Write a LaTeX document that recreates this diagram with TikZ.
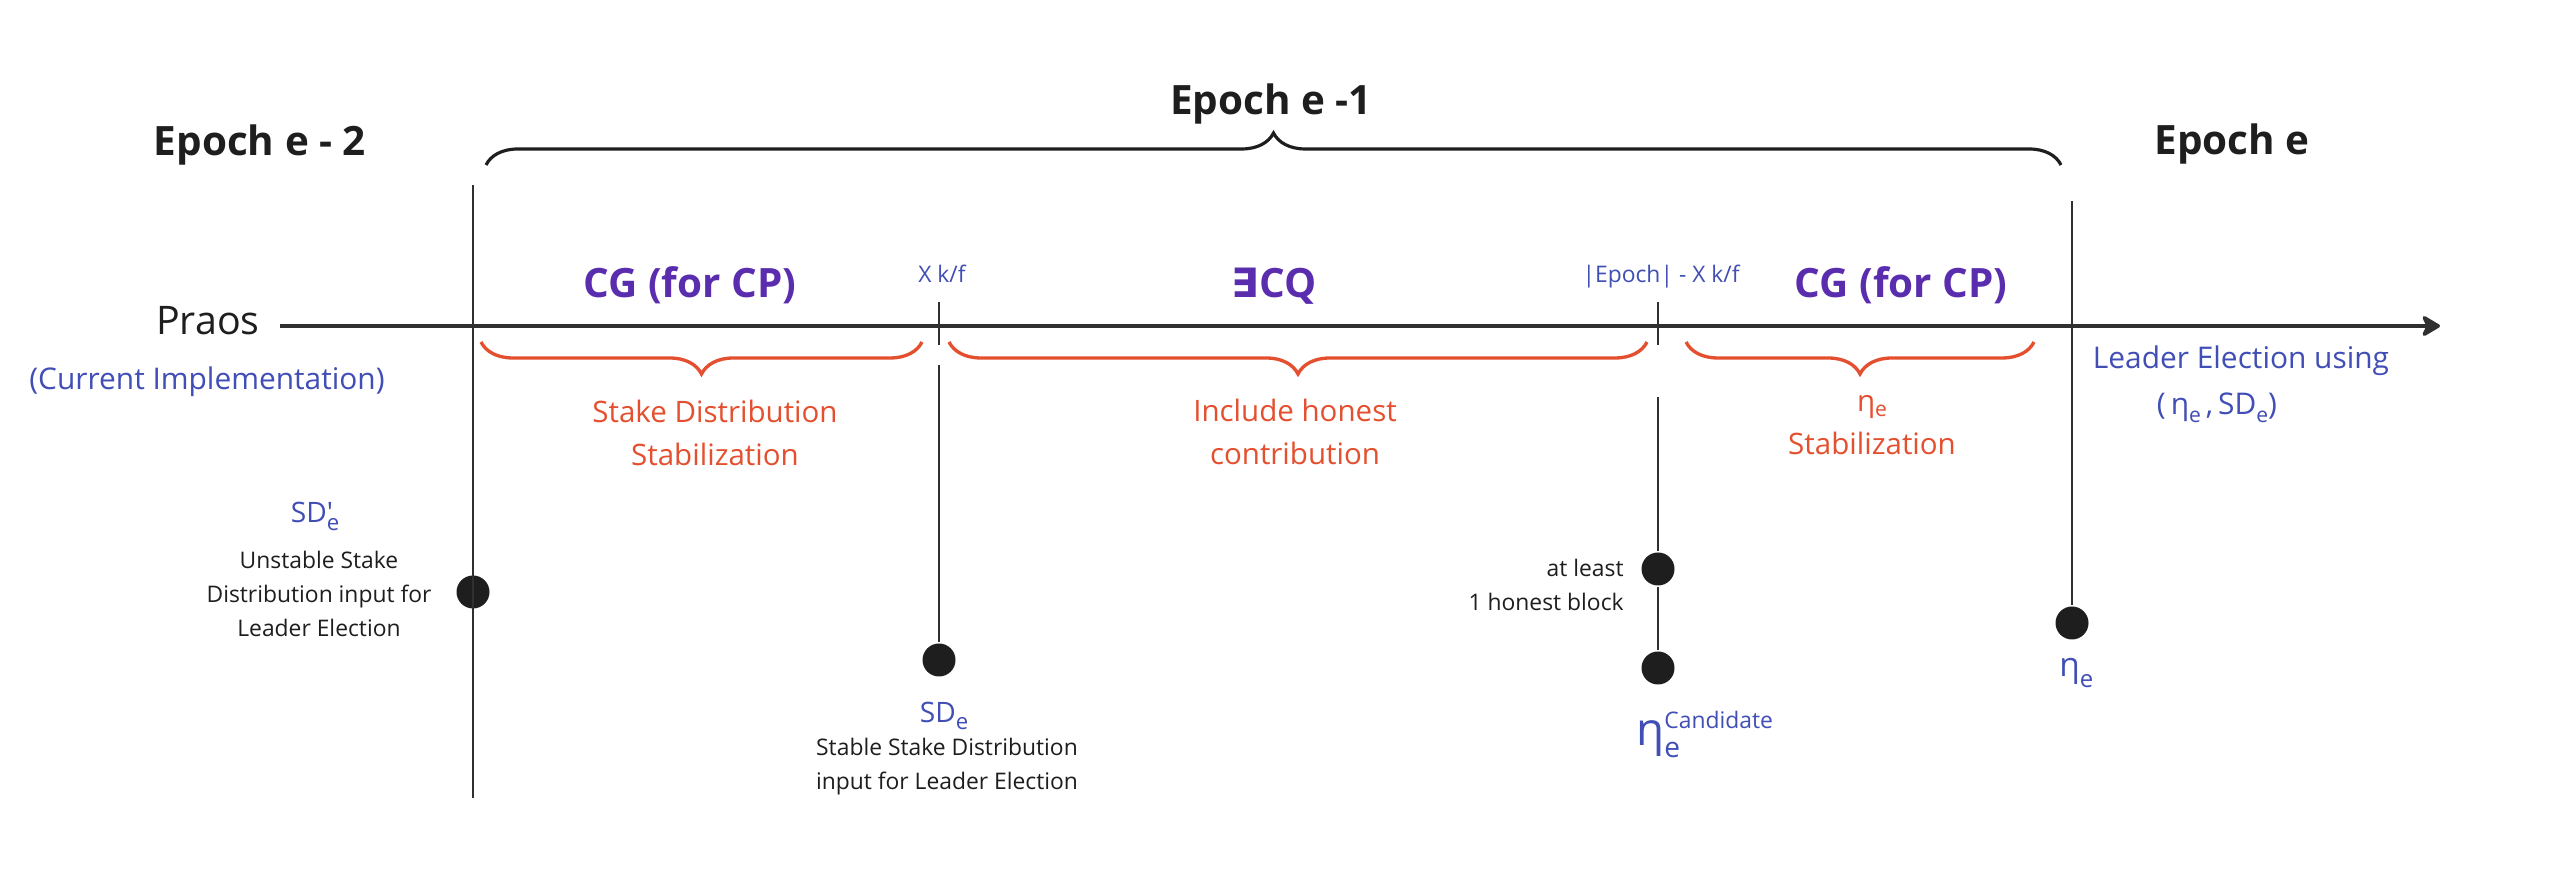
\documentclass[tikz,border=0pt]{standalone}
\usepackage{fontspec}
\setmainfont{Open Sans}
\newfontfamily\existsfont{DejaVu Sans}
\usetikzlibrary{arrows.meta,decorations.pathreplacing}
\definecolor{ink}{HTML}{1E1E1E}
\definecolor{axisgray}{HTML}{303030}
\definecolor{cpblue}{HTML}{404EB5}
\definecolor{cgpurple}{HTML}{5A2DAF}
\definecolor{brorange}{HTML}{E4502F}
\newcommand{\fsz}[2]{\fontsize{#1pt}{#2pt}\selectfont}
\begin{document}
\begin{tikzpicture}[>={Stealth[round,length=6pt,width=7pt,inset=1.6pt]},line width=0.8pt,
  epoch/.style={font=\bfseries\fsz{11.5}{14},text=ink,anchor=base,inner sep=0pt},
  cgtext/.style={font=\bfseries\fsz{11.5}{14},text=cgpurple,anchor=base,inner sep=0pt},
  slot/.style={font=\fsz{6.5}{9.7},text=cpblue,anchor=base,inner sep=0pt},
  why/.style={font=\fsz{8.4}{12.4},text=brorange,align=center,anchor=base,inner sep=0pt},
  note/.style={font=\fsz{6.5}{9.7},text=ink,align=center,anchor=base,inner sep=0pt},
  val/.style={font=\fsz{8}{10},text=cpblue,anchor=base,inner sep=0pt},
  dot/.style={circle,fill=ink,minimum size=3.3mm,inner sep=0pt},
  tline/.style={draw=axisgray},
  topbrace/.style={decorate,decoration={brace,amplitude=3.2mm},draw=ink,line width=0.9pt},
  lowbrace/.style={decorate,decoration={brace,mirror,amplitude=3.2mm},draw=brorange,line width=0.95pt}]
\fill[white](0,0)rectangle(25.72,8.78);
% time axis
\coordinate(ax0)at(2.80,5.52);
\coordinate(ax1)at(24.40,5.52);
\draw[->,draw=axisgray,line width=1pt](ax0)--(ax1);
% epoch limits and checkpoints
\coordinate(v1top)at(4.73,6.93);
\coordinate(v1bot)at(4.73,0.80);
\node[dot](sdu)at(4.73,2.86){};
\draw[tline](v1top)--(v1bot);
\foreach \x/\n in {9.39/k1,16.58/k2}
{
    \coordinate(\n a)at(\x,5.76);
    \coordinate(\n b)at(\x,5.33);
    \draw[tline](\n a)--(\n b);
}
\coordinate(k1c)at(9.39,5.13);
\node[dot](sds)at(9.39,2.18){};
\draw[tline](k1c)--(sds);
\coordinate(k2c)at(16.58,4.81);
\node[dot](honest)at(16.58,3.09){};
\node[dot](cand)at(16.58,2.10){};
\draw[tline](k2c)--(honest)--(cand);
\coordinate(v4top)at(20.72,6.77);
\node[dot](eta)at(20.72,2.55){};
\draw[tline](v4top)--(eta);
% braces
\draw[topbrace](4.86,7.13)--(20.61,7.13);
\foreach \a/\b in {4.81/9.22,9.49/16.47,16.86/20.34}
    \draw[lowbrace](\a,5.36)--(\b,5.36);
% headers
\node[epoch](ep2)at(2.60,7.22){Epoch e - 2};
\node[epoch](ep1)at(12.71,7.63){Epoch e -1};
\node[epoch](ep0)at(22.32,7.23){Epoch e};
\node[font=\fsz{11.2}{13},text=ink,anchor=base,inner sep=0pt](praos)at(2.08,5.43){Praos};
\node[font=\fsz{8.5}{10},text=cpblue,anchor=base,inner sep=0pt](impl)at(2.07,4.88){(Current Implementation)};
\node[cgtext](cg1)at(6.90,5.80){CG (for CP)};
\node[cgtext](cq)at(12.74,5.80){{\existsfont ∃}CQ};
\node[cgtext](cg2)at(19.01,5.80){CG (for CP)};
\node[slot](xkf)at(9.42,5.95){X k/f};
\node[slot](ekf)at(16.61,5.95){|Epoch| - X k/f};
% under the braces (base = last line)
\node[why](stab)at(7.15,4.12){Stake Distribution\\Stabilization};
\node[why](inc)at(12.95,4.13){Include honest\\contribution};
\node[why](etast)at(18.72,4.23){η\raisebox{-1.5pt}{\fsz{6}{7}e}\\Stabilization};
\node[font=\fsz{8.5}{10},text=cpblue,anchor=base,inner sep=0pt](lead)at(22.41,5.09){Leader Election using};
\node[font=\fsz{8.5}{10},text=cpblue,anchor=base,inner sep=0pt](pair)at(22.17,4.63){(\,η\raisebox{-2pt}{\fsz{6}{7}e}\,,\,SD\raisebox{-2pt}{\fsz{6}{7}e})};
% values on the lines
\node[val](sdp)at(3.15,3.55){SD\rlap{\textquotesingle}\raisebox{-2pt}{\fsz{6.3}{7}e}};
\node[note](unst)at(3.19,2.41){Unstable Stake\\Distribution input for\\Leader Election};
\node[val](sde)at(9.44,1.55){SD\raisebox{-1.8pt}{\fsz{6.3}{7}e}};
\node[note](stbl)at(9.47,0.88){Stable Stake Distribution\\input for Leader Election};
\node[note,align=right,anchor=base east](atl)at(16.25,2.67){at least\\1 honest block};
\node[font=\fsz{13}{15},text=cpblue,anchor=base west,inner sep=0pt](etac)at(16.35,1.32){η\rlap{\raisebox{5.1pt}{\fsz{6.5}{7}Candidate}}\raisebox{-3.4pt}{\fsz{8}{9}e}};
\node[font=\fsz{9.5}{11},text=cpblue,anchor=base west,inner sep=0pt](etae)at(20.58,2.01){η\raisebox{-3pt}{\fsz{6.8}{8}e}};
\end{tikzpicture}
\end{document}
